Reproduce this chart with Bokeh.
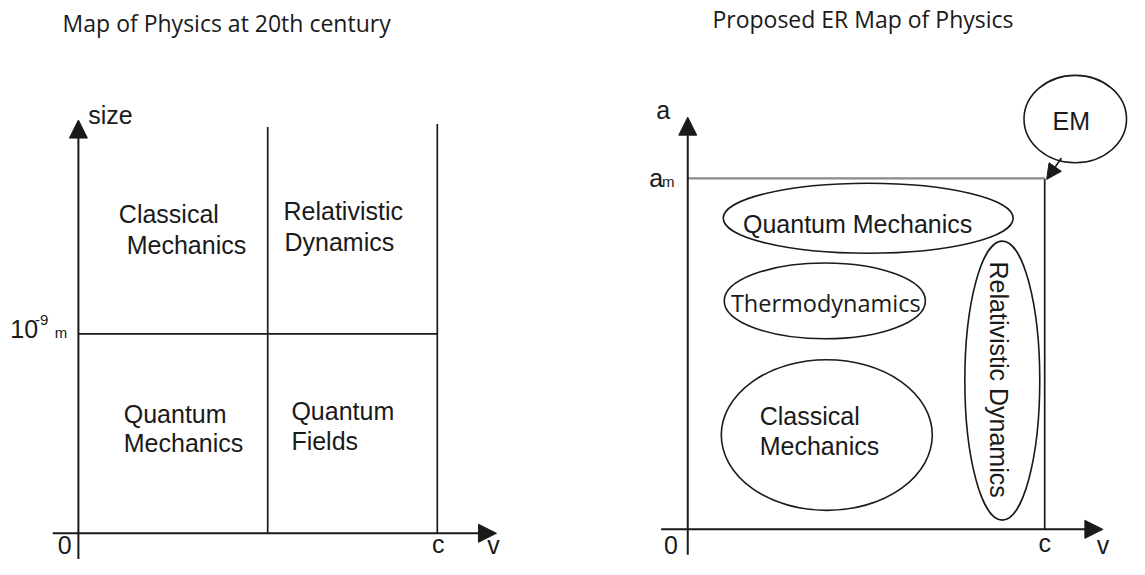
from bokeh.plotting import figure
from bokeh.models import Range1d, Arrow, NormalHead
from bokeh.core.properties import value
from bokeh.embed import file_html
from bokeh.resources import INLINE

# ---------------- data (diagram coordinates, reference-pixel space) ----------------
# titles
title_text = ["Map of Physics at 20th century", "Proposed ER Map of Physics"]
title_x = [63, 722]
title_y = [23, 19]

# axes with arrow heads (start -> tip)
axis_x0 = [79, 53, 697, 670]
axis_y0 = [575, 548, 570, 544]
axis_x1 = [79, 503, 697, 1118]
axis_y1 = [123, 548, 120, 544]

# plain dark lines
seg_x0 = [271, 443, 79, 1059]
seg_y0 = [130, 127, 343, 183]
seg_x1 = [271, 443, 443, 1059]
seg_y1 = [548, 548, 343, 544]

# gray a_m line
am_x0, am_y0, am_x1, am_y1 = [697], [183], [1059], [183]

# EM pointer arrow
em_arrow = dict(x0=1076, y0=162, x1=1061, y1=184)

# ellipses (right panel)
ell_name = ["Quantum Mechanics", "Thermodynamics", "Classical Mechanics",
            "Relativistic Dynamics", "EM"]
ell_x = [880, 836, 838, 1016, 1090]
ell_y = [224, 309, 447, 391, 122]
ell_w = [294, 204, 214, 76, 104]
ell_h = [72, 78, 155, 287, 90]

# left-aligned labels
lab_text = ["size", "Classical", "Mechanics", "Relativistic", "Dynamics",
            "Quantum", "Mechanics", "Quantum", "Fields", "10",
            "a", "a", "Quantum Mechanics", "Classical", "Mechanics"]
lab_x = [89, 120, 128, 287, 288, 125, 125, 295, 295, 10,
         665, 658, 753, 770, 770]
lab_y = [118, 220, 252, 217, 248, 425, 455, 422, 453, 338,
         113, 183, 230, 427, 458]

# small labels (superscripts / subscripts)
small_text = ["-9", "m", "m"]
small_x = [35, 55, 671]
small_y = [329, 341, 186]

# centered labels
cen_text = ["0", "c", "v", "0", "c", "v", "EM"]
cen_x = [65, 444, 500, 680, 1059, 1118, 1086]
cen_y = [560, 559, 560, 560, 558, 560, 124]

# Thermodynamics label (humanist font)
thermo_text = ["Thermodynamics"]
thermo_x = [837]
thermo_y = [311]

# rotated label
rot_text = ["Relativistic Dynamics"]
rot_x = [1013]
rot_y = [390]

INK = "#1a1a1a"
ARIAL = value("Liberation Sans")
HUMAN = value("Open Sans")

p = figure(width=1129, height=559, output_backend="svg", toolbar_location=None,
           x_range=Range1d(0, 1145), y_range=Range1d(575, 0),
           min_border=0)
p.axis.visible = False
p.grid.visible = False
p.outline_line_color = None
p.background_fill_color = "white"
p.border_fill_color = "white"

# axes
for x0, y0, x1, y1 in zip(axis_x0, axis_y0, axis_x1, axis_y1):
    p.add_layout(Arrow(end=NormalHead(size=18, fill_color=INK, line_color=INK),
                       x_start=x0, y_start=y0, x_end=x1, y_end=y1,
                       line_color=INK, line_width=2))

p.segment(x0=seg_x0, y0=seg_y0, x1=seg_x1, y1=seg_y1, line_color=INK, line_width=1.7)
p.segment(x0=am_x0, y0=am_y0, x1=am_x1, y1=am_y1, line_color="#8a8a8a", line_width=2.2)

p.add_layout(Arrow(end=NormalHead(size=15, fill_color=INK, line_color=INK),
                   x_start=em_arrow["x0"], y_start=em_arrow["y0"],
                   x_end=em_arrow["x1"], y_end=em_arrow["y1"],
                   line_color=INK, line_width=1.6))

p.ellipse(x=ell_x, y=ell_y, width=ell_w, height=ell_h, fill_color=None,
          line_color=INK, line_width=1.6)

p.text(x=title_x, y=title_y, text=title_text, text_font=HUMAN, text_font_size="23px",
       text_color=INK, text_align="left", text_baseline="middle")
p.text(x=lab_x, y=lab_y, text=lab_text, text_font=ARIAL, text_font_size="25px",
       text_color=INK, text_align="left", text_baseline="middle")
p.text(x=small_x, y=small_y, text=small_text, text_font=ARIAL, text_font_size="15px",
       text_color=INK, text_align="left", text_baseline="middle")
p.text(x=cen_x, y=cen_y, text=cen_text, text_font=ARIAL, text_font_size="25px",
       text_color=INK, text_align="center", text_baseline="middle")
p.text(x=thermo_x, y=thermo_y, text=thermo_text, text_font=HUMAN, text_font_size="23.5px",
       text_color=INK, text_align="center", text_baseline="middle")
p.text(x=rot_x, y=rot_y, text=rot_text, text_font=ARIAL, text_font_size="25px",
       text_color=INK, text_align="center", text_baseline="middle", angle=-1.5708)

open("out.html", "w").write(file_html(p, INLINE))
